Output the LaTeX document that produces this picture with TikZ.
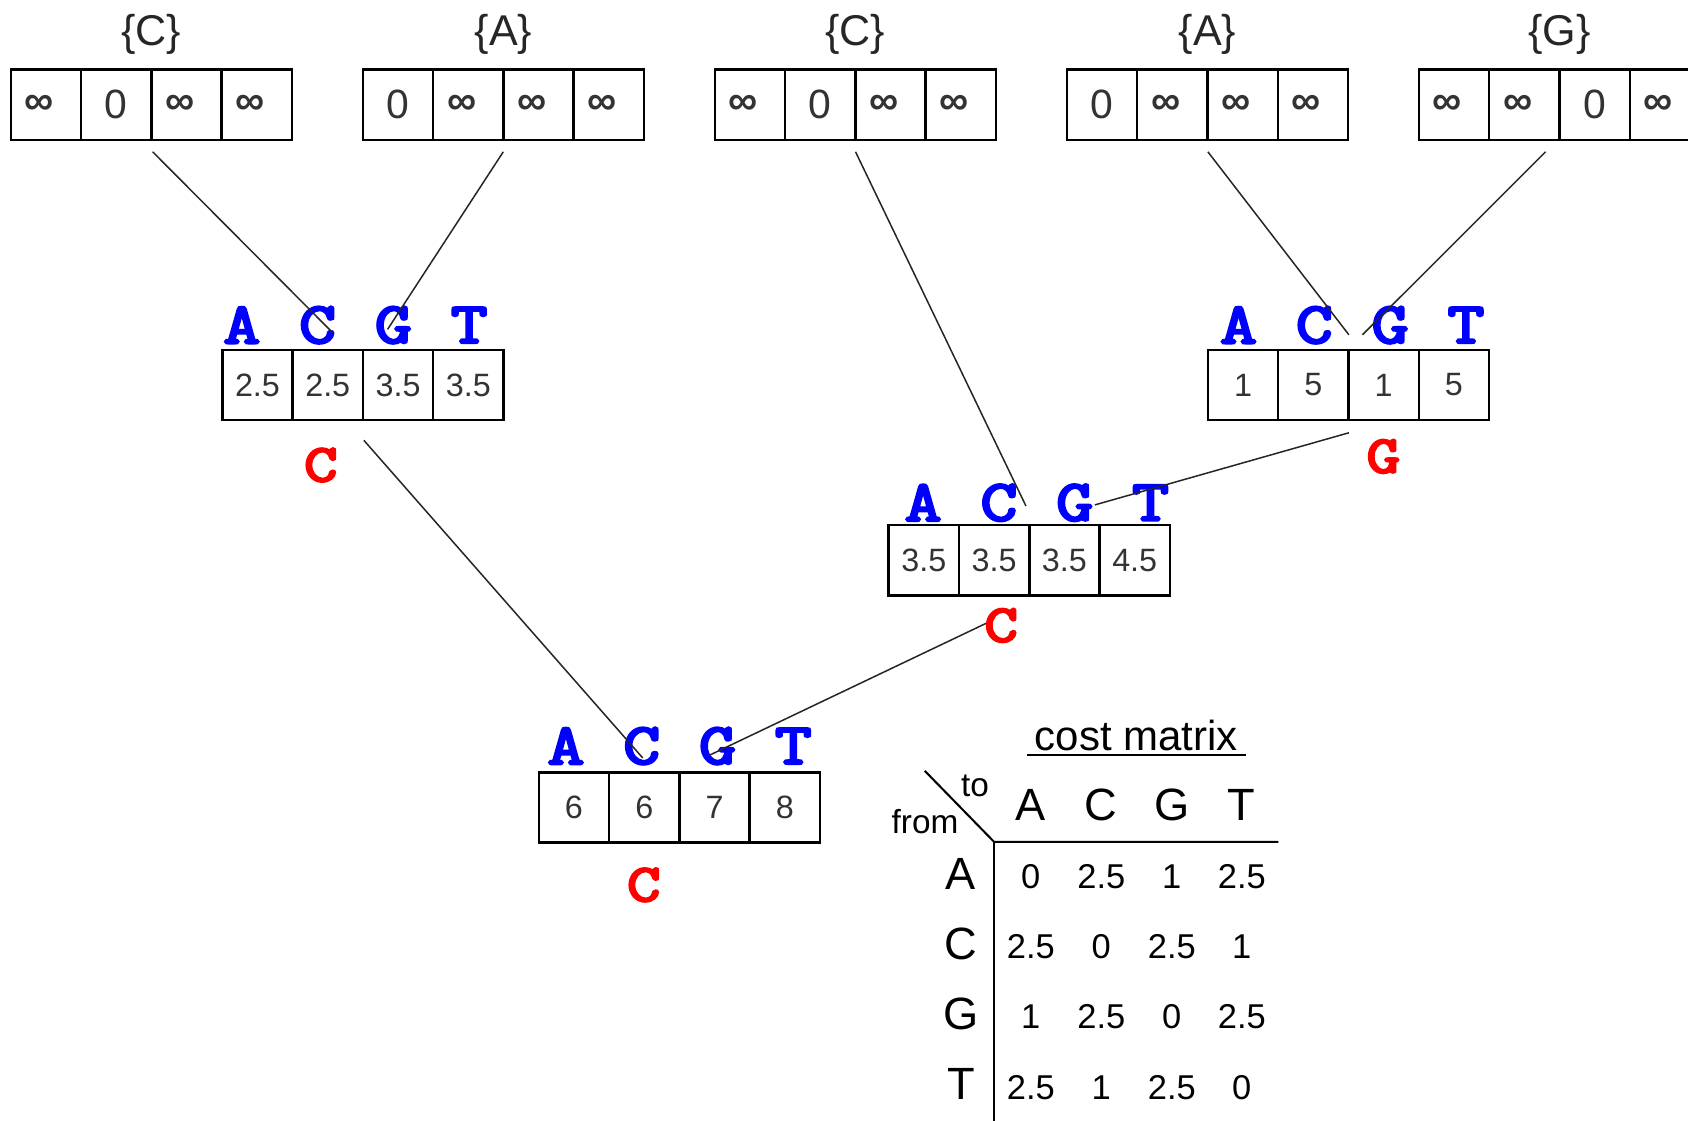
\documentclass[tikz,border=0pt]{standalone}
\usepackage{fontspec}
\setmainfont{Liberation Sans}
\newfontfamily\codefont{Latin Modern Mono}[FakeBold=4.2]
\usetikzlibrary{calc}
\newcommand\infy{{\bfseries ∞}\kern6pt}
\newcommand\cellrow[8]{%
  \node[#4] (#1-1) at (#2,#3) {#5};
  \node[#4] (#1-2) at (#2+65.3,#3) {#6};
  \node[#4] (#1-3) at (#2+130.6,#3) {#7};
  \node[#4] (#1-4) at (#2+195.9,#3) {#8};}
\newcommand\acgt[3]{%
  \node[basech] (#1a) at (#2,#3) {A};
  \node[basech] (#1c) at (#2+70.4,#3) {C};
  \node[basech] (#1g) at (#2+140.8,#3) {G};
  \node[basech] (#1t) at (#2+211.2,#3) {T};}
\tikzset{
  cell/.style={draw, line width=1.15pt, minimum width=32.65pt, minimum height=32.65pt,
    inner sep=0pt, outer sep=0pt, anchor=north west, text=black!80,
    font=\fontsize{15}{16}\selectfont},
  topcell/.style={cell, font=\fontsize{19}{21}\selectfont},
  setlab/.style={anchor=base, font=\fontsize{20}{22}\selectfont, text=black!85},
  basech/.style={anchor=center, inner sep=0pt, text=blue, xscale=1.22, transform shape,
    font=\fontsize{27}{28}\selectfont\codefont},
  pick/.style={anchor=center, inner sep=0pt, text=red, xscale=1.22, transform shape,
    font=\fontsize{24.5}{26}\selectfont\codefont},
  conn/.style={line width=0.7pt, black!85},
  mline/.style={line width=0.95pt},
  mhead/.style={anchor=base, inner sep=0pt, font=\fontsize{21}{23}\selectfont},
  mval/.style={anchor=base, inner sep=0pt, font=\fontsize{16}{18}\selectfont},
  msmall/.style={anchor=base, inner sep=0pt, font=\fontsize{15.5}{17}\selectfont},
}
\begin{document}
\begin{tikzpicture}[x=0.5pt, y=-0.5pt]
\useasboundingbox (0,0) rectangle (1568,1041);
\clip (0,0) rectangle (1568,1041);
% leaf boxes
\cellrow{l1}{10}{64.5}{topcell}{\infy}{0}{\infy}{\infy}
\cellrow{l2}{337}{64.5}{topcell}{0}{\infy}{\infy}{\infy}
\cellrow{l3}{664}{64.5}{topcell}{\infy}{0}{\infy}{\infy}
\cellrow{l4}{991}{64.5}{topcell}{0}{\infy}{\infy}{\infy}
\cellrow{l5}{1318}{64.5}{topcell}{\infy}{\infy}{0}{\infy}
\node[setlab] (s1) at (140.6,42) {\{C\}};
\node[setlab] (s2) at (467.6,42) {\{A\}};
\node[setlab] (s3) at (794.6,42) {\{C\}};
\node[setlab] (s4) at (1121.6,42) {\{A\}};
\node[setlab] (s5) at (1448.6,42) {\{G\}};
% internal boxes
\cellrow{n1}{206.5}{325}{cell}{2.5}{2.5}{3.5}{3.5}
\cellrow{n2}{1122}{325}{cell}{1}{5}{1}{5}
\cellrow{n3}{825.5}{487.7}{cell}{3.5}{3.5}{3.5}{4.5}
\cellrow{n4}{500.5}{717.4}{cell}{6}{6}{7}{8}
% letters
\acgt{h1}{224.6}{302}
\acgt{h2}{1150.5}{302}
\acgt{h3}{857.5}{467}
\acgt{h4}{525.7}{693}
\node[pick] (p1) at (298,432) {C};
\node[pick] (p2) at (1285,424) {G};
\node[pick] (p3) at (930,581) {C};
\node[pick] (p4) at (598,822) {C};
% connector ends
\coordinate (a1) at (141.8,141);  \coordinate (b1) at (309,309);
\coordinate (a2) at (467.5,141);  \coordinate (b2) at (360,306);
\coordinate (a3) at (794.7,141);  \coordinate (b3) at (953,470);
\coordinate (a4) at (1122,141);   \coordinate (b4) at (1253,311);
\coordinate (a5) at (1435.7,141); \coordinate (b5) at (1265.6,311);
\coordinate (a6) at (1253,402);   \coordinate (b6) at (1017,469);
\coordinate (a7) at (338,409);    \coordinate (b7) at (597,704);
\coordinate (a8) at (916,579);    \coordinate (b8) at (658,702);
\foreach \i in {1,...,8} \draw[conn] (a\i) -- (b\i);
% cost matrix
\node[anchor=base, inner sep=0pt, font=\fontsize{19.5}{21}\selectfont] (title) at (1055.5,697) {cost matrix};
\coordinate (ul1) at (954,701); \coordinate (ul2) at (1157,701);
\draw[line width=0.9pt] (ul1) -- (ul2);
\node[msmall] (to) at (905.7,740) {to};
\node[msmall] (from) at (859.3,774) {from};
\coordinate (dg) at (859,716);
\coordinate (cr) at (923.4,782);
\coordinate (hr) at (1187.5,782);
\coordinate (vb) at (923.4,1045);
\draw[mline] (dg) -- (cr) -- (hr);
\draw[mline] (cr) -- (vb);
\foreach \c/\x in {A/957.5,C/1023,G/1088.5,T/1153.5}
  \node[mhead] (col\c) at (\x,762) {\c};
\foreach \r/\y in {A/826,C/891,G/956,T/1021}
  \node[mhead] (row\r) at (892.5,\y) {\r};
\foreach \r/\y/\va/\vb/\vc/\vd in {A/825/0/2.5/1/2.5, C/890.5/2.5/0/2.5/1, G/955.5/1/2.5/0/2.5, T/1021/2.5/1/2.5/0}{
  \node[mval] (v\r A) at (957.5,\y) {\va};
  \node[mval] (v\r C) at (1023,\y) {\vb};
  \node[mval] (v\r G) at (1088.5,\y) {\vc};
  \node[mval] (v\r T) at (1153.5,\y) {\vd};
}
\end{tikzpicture}
\end{document}
